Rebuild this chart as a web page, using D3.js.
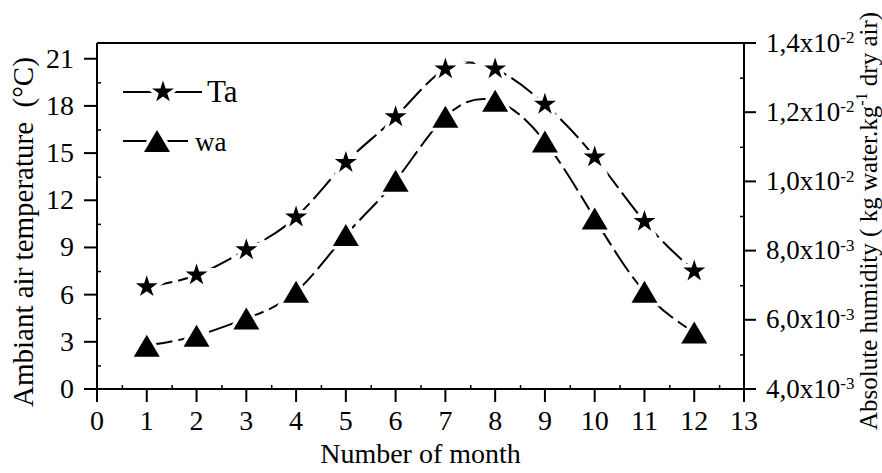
<!DOCTYPE html>
<html>
<head>
<meta charset="utf-8">
<script src="https://cdn.jsdelivr.net/npm/d3@7"></script>
<style>
  html, body { margin: 0; padding: 0; background: #fff; }
  svg { display: block; font-family: "Liberation Serif", "Times New Roman", serif; }
</style>
</head>
<body>
<div id="chart"></div>
<script>
// Monthly ambient air temperature (Ta) and absolute humidity (wa)
const months = [1, 2, 3, 4, 5, 6, 7, 8, 9, 10, 11, 12];
const tempValues = [6.5, 7.25, 8.85, 10.93, 14.4, 17.3, 20.35, 20.35, 18.1, 14.75, 10.65, 7.5];
const humValues = [0.00525, 0.00554, 0.00604, 0.00681, 0.00845, 0.01002, 0.01187, 0.01233, 0.01115, 0.00893, 0.00681, 0.00563];

const monthTicks = [0, 1, 2, 3, 4, 5, 6, 7, 8, 9, 10, 11, 12, 13];
const tempTicks = [0, 3, 6, 9, 12, 15, 18, 21];
const humTicks = [0.004, 0.006, 0.008, 0.010, 0.012, 0.014];

const width = 882, height = 473;
const margin = { top: 43, right: 138, bottom: 84, left: 97 };
const plotRight = width - margin.right;
const plotBottom = height - margin.bottom;

const svg = d3.select('#chart').append('svg')
  .attr('width', width)
  .attr('height', height);

const x = d3.scaleLinear().domain([0, 13]).range([margin.left, plotRight]);
const yT = d3.scaleLinear().domain([0, 22]).range([plotBottom, margin.top]);
const yH = d3.scaleLinear().domain([0.004, 0.014]).range([plotBottom, margin.top]);

// format 0.014 -> ["1,4", "-2"]
function sciParts(v) {
  const exp = Math.floor(Math.log10(v) + 1e-9);
  const mant = v / Math.pow(10, exp);
  return [mant.toFixed(1).replace('.', ','), String(exp)];
}

// --- axes ---
function styleAxis(g) {
  g.attr('font-family', null).attr('font-size', null);
  g.select('.domain').attr('stroke', '#000').attr('stroke-width', 2);
  g.selectAll('.tick line').attr('stroke', '#000').attr('stroke-width', 2);
  g.selectAll('.tick text').attr('fill', '#000').attr('font-size', '28px');
}

// minor ticks (inward, no labels)
svg.append('g')
  .attr('transform', `translate(0,${plotBottom})`)
  .call(d3.axisTop(x).tickValues(d3.range(0.5, 13, 1)).tickSize(4).tickFormat(''))
  .call(g => g.select('.domain').remove())
  .call(g => g.selectAll('line').attr('stroke', '#000').attr('stroke-width', 1.5));

svg.append('g')
  .attr('transform', `translate(${margin.left},0)`)
  .call(d3.axisRight(yT).tickValues(d3.range(1.5, 21, 3)).tickSize(4).tickFormat(''))
  .call(g => g.select('.domain').remove())
  .call(g => g.selectAll('line').attr('stroke', '#000').attr('stroke-width', 1.5));

svg.append('g')
  .attr('transform', `translate(${plotRight},0)`)
  .call(d3.axisLeft(yH).tickValues([0.005, 0.007, 0.009, 0.011, 0.013]).tickSize(4).tickFormat(''))
  .call(g => g.select('.domain').remove())
  .call(g => g.selectAll('line').attr('stroke', '#000').attr('stroke-width', 1.5));

// major axes
svg.append('g')
  .attr('transform', `translate(0,${plotBottom})`)
  .call(d3.axisBottom(x).tickValues(monthTicks).tickSize(13).tickSizeOuter(0).tickPadding(8).offset(0))
  .call(styleAxis);

svg.append('g')
  .attr('transform', `translate(${margin.left},0)`)
  .call(d3.axisLeft(yT).tickValues(tempTicks).tickSize(13).tickSizeOuter(0).tickPadding(10).offset(0))
  .call(styleAxis);

const rightAxis = svg.append('g')
  .attr('transform', `translate(${plotRight},0)`)
  .call(d3.axisRight(yH).tickValues(humTicks).tickSize(12).tickSizeOuter(0).tickPadding(10).offset(0)
    .tickFormat(() => ''))
  .call(styleAxis);

rightAxis.selectAll('.tick text')
  .attr('text-anchor', 'start')
  .attr('font-size', '27px')
  .each(function(d) {
    const [m, e] = sciParts(d);
    const t = d3.select(this);
    t.append('tspan').text(m + 'x10');
    t.append('tspan').attr('font-size', '17px').attr('dy', '-0.5em').text(e);
  });

// top border
svg.append('line')
  .attr('x1', margin.left).attr('x2', plotRight)
  .attr('y1', margin.top).attr('y2', margin.top)
  .attr('stroke', '#000').attr('stroke-width', 2);

// --- axis titles ---
svg.append('text')
  .attr('transform', `translate(33,407) rotate(-90)`)
  .attr('font-size', '29px')
  .attr('fill', '#000')
  .style('white-space', 'pre')
  .text('Ambiant air temperature  (°C)');

svg.append('text')
  .attr('x', (margin.left + plotRight) / 2)
  .attr('y', 463)
  .attr('text-anchor', 'middle')
  .attr('font-size', '28px')
  .attr('fill', '#000')
  .text('Number of month');

const rTitle = svg.append('text')
  .attr('transform', `translate(877,430) rotate(-90)`)
  .attr('font-size', '25px')
  .attr('fill', '#000')
  .style('white-space', 'pre');
rTitle.append('tspan').text('Absolute humidity ( kg water.kg');
rTitle.append('tspan').attr('font-size', '16px').attr('dy', '-0.6em').text('-1');
rTitle.append('tspan').attr('dy', '0.38em').text(' dry air)');

// --- series ---
const star = d3.symbol().type(d3.symbolStar).size(150);
const triPath = 'M0,-11L13,11L-13,11Z';

const tempLine = d3.line()
  .x((d, i) => x(months[i]))
  .y(d => yT(d))
  .curve(d3.curveNatural);

const humLine = d3.line()
  .x((d, i) => x(months[i]))
  .y(d => yH(d))
  .curve(d3.curveNatural);

svg.append('path')
  .attr('d', tempLine(tempValues))
  .attr('fill', 'none')
  .attr('stroke', '#000').attr('stroke-width', 2)
  .attr('stroke-dasharray', '26,6');

svg.append('path')
  .attr('d', humLine(humValues))
  .attr('fill', 'none')
  .attr('stroke', '#000').attr('stroke-width', 2)
  .attr('stroke-dasharray', '26,6');

// markers, with a white halo so the line breaks around them
svg.append('g').selectAll('path')
  .data(tempValues)
  .join('path')
  .attr('transform', (d, i) => `translate(${x(months[i])},${yT(d)})`)
  .attr('d', star())
  .attr('fill', '#000')
  .attr('stroke', '#fff').attr('stroke-width', 7)
  .attr('paint-order', 'stroke');

svg.append('g').selectAll('path')
  .data(humValues)
  .join('path')
  .attr('transform', (d, i) => `translate(${x(months[i])},${yH(d)})`)
  .attr('d', triPath)
  .attr('fill', '#000')
  .attr('stroke', '#fff').attr('stroke-width', 7)
  .attr('paint-order', 'stroke');

// --- legend ---
const legend = svg.append('g');
const legendItems = [
  { label: 'Ta', y: 92, x2: 202, cx: 163, textX: 207, size: 31, mark: 'star' },
  { label: 'wa', y: 141, x2: 188, cx: 157, textX: 195, size: 27, mark: 'tri' }
];
legendItems.forEach(it => {
  legend.append('line')
    .attr('x1', 123).attr('x2', it.x2)
    .attr('y1', it.y).attr('y2', it.y)
    .attr('stroke', '#000').attr('stroke-width', 2);
  legend.append('path')
    .attr('transform', `translate(${it.cx},${it.y})`)
    .attr('d', it.mark === 'star' ? star() : triPath)
    .attr('fill', '#000')
    .attr('stroke', '#fff').attr('stroke-width', 7)
    .attr('paint-order', 'stroke');
  legend.append('text')
    .attr('x', it.textX).attr('y', it.y + 10)
    .attr('font-size', it.size + 'px')
    .attr('fill', '#000')
    .text(it.label);
});
</script>
</body>
</html>
